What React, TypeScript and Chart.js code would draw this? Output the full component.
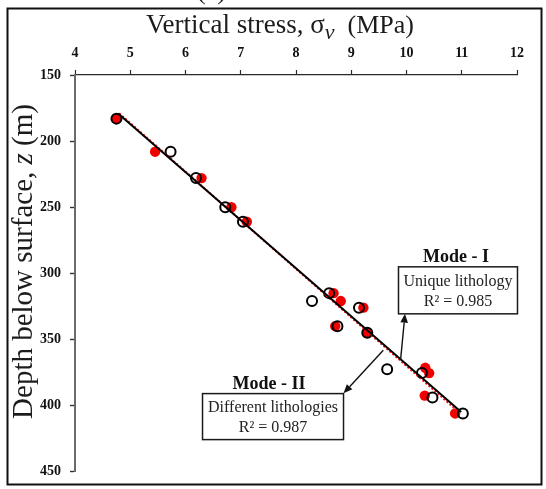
import React, { useEffect, useRef } from "react";
import { Chart, registerables } from "chart.js";

Chart.register(...registerables);

// Mode I: unique lithology (filled red markers)
const uniqueStress = [4.75, 5.45, 6.29, 6.83, 7.11, 8.68, 8.81, 9.22, 8.71, 9.29, 10.34, 10.41, 10.33, 10.88];
const uniqueDepth = [183, 208, 228, 250, 261, 315, 321, 326, 340, 345, 371.5, 375.5, 392.5, 406];

// Mode II: different lithologies (open black markers)
const mixedStress = [4.75, 5.73, 6.19, 6.72, 7.04, 8.29, 8.6, 9.14, 8.75, 9.29, 9.65, 10.28, 10.47, 11.02];
const mixedDepth = [183, 208, 228, 250, 261, 321, 315, 326, 340, 345, 372.5, 375.5, 394, 406];

// Linear trend lines, given by their two end points
const fitUniqueStress = [4.8, 10.92];
const fitUniqueDepth = [179, 404];
const fitMixedStress = [4.78, 10.99];
const fitMixedDepth = [179.2, 405];

// Axis ticks
const stressTicks = [4, 5, 6, 7, 8, 9, 10, 11, 12];
const depthTicks = [150, 200, 250, 300, 350, 400, 450];

// Annotation texts
const modeOneTitle = "Mode - I";
const modeOneLines = ["Unique lithology", "R\u00B2 = 0.985"];
const modeTwoTitle = "Mode - II";
const modeTwoLines = ["Different lithologies", "R\u00B2 = 0.987"];

const SERIF = '"Liberation Serif", "Times New Roman", serif';

const toPoints = (xs: number[], ys: number[]) => xs.map((x, i) => ({ x, y: ys[i] }));

function arrow(ctx: CanvasRenderingContext2D, x0: number, y0: number, x1: number, y1: number) {
  const ang = Math.atan2(y1 - y0, x1 - x0);
  const head = 9;
  const half = 3.8;
  const bx = x1 - head * Math.cos(ang);
  const by = y1 - head * Math.sin(ang);
  ctx.beginPath();
  ctx.moveTo(x0, y0);
  ctx.lineTo(bx, by);
  ctx.stroke();
  ctx.beginPath();
  ctx.moveTo(x1, y1);
  ctx.lineTo(bx + half * Math.sin(ang), by - half * Math.cos(ang));
  ctx.lineTo(bx - half * Math.sin(ang), by + half * Math.cos(ang));
  ctx.closePath();
  ctx.fill();
}

function textBox(
  ctx: CanvasRenderingContext2D,
  cx: number,
  top: number,
  w: number,
  h: number,
  title: string,
  lines: string[],
  titleShift: number
) {
  ctx.save();
  ctx.fillStyle = "#ffffff";
  ctx.fillRect(cx - w / 2, top, w, h);
  ctx.strokeStyle = "#1a1a1a";
  ctx.lineWidth = 1.5;
  ctx.strokeRect(cx - w / 2, top, w, h);
  ctx.fillStyle = "#111111";
  ctx.textAlign = "center";
  ctx.textBaseline = "middle";
  ctx.font = `bold 18px ${SERIF}`;
  ctx.fillText(title, cx + titleShift, top - 9.5);
  ctx.font = `16px ${SERIF}`;
  ctx.fillStyle = "#222222";
  ctx.fillText(lines[0], cx, top + 14.5);
  ctx.fillText(lines[1], cx, top + 34.5);
  ctx.restore();
}

type Part = { t: string; f: string; dy: number };

function drawParts(ctx: CanvasRenderingContext2D, parts: Part[], cx: number, baseline: number) {
  let total = 0;
  for (const p of parts) {
    ctx.font = p.f;
    total += ctx.measureText(p.t).width;
  }
  let x = cx - total / 2;
  for (const p of parts) {
    ctx.font = p.f;
    ctx.fillText(p.t, x, baseline + p.dy);
    x += ctx.measureText(p.t).width;
  }
}

const decorPlugin = {
  id: "decor",
  afterDraw(chart: any) {
    const { ctx } = chart;
    const xs = chart.scales.x;
    const ys = chart.scales.y;
    const px = (v: number) => xs.getPixelForValue(v);
    const py = (v: number) => ys.getPixelForValue(v);

    ctx.save();

    // outer frame
    ctx.strokeStyle = "#111111";
    ctx.lineWidth = 2;
    ctx.strokeRect(7.5, 8.5, 534, 476);

    // panel tag above the frame
    ctx.fillStyle = "#222222";
    ctx.textAlign = "left";
    ctx.textBaseline = "alphabetic";
    ctx.font = `26px ${SERIF}`;
    ctx.fillText("(a)", 197, -1.5);

    // axis titles
    ctx.fillStyle = "#1c1c1c";
    drawParts(
      ctx,
      [
        { t: "Vertical stress, ", f: `27px ${SERIF}`, dy: 0 },
        { t: "\u03C3", f: `27px ${SERIF}`, dy: 0 },
        { t: "v", f: `italic 22px ${SERIF}`, dy: 6 },
        { t: "  (MPa)", f: `26px ${SERIF}`, dy: 0 },
      ],
      280,
      33
    );

    ctx.save();
    ctx.translate(31.5, 261.5);
    ctx.rotate(-Math.PI / 2);
    drawParts(
      ctx,
      [
        { t: "Depth below surface, ", f: `29px ${SERIF}`, dy: 0 },
        { t: "z", f: `italic 29px ${SERIF}`, dy: 0 },
        { t: " (m)", f: `29px ${SERIF}`, dy: 0 },
      ],
      0,
      0
    );
    ctx.restore();

    // arrows from the trend lines to the labels
    ctx.strokeStyle = "#111111";
    ctx.fillStyle = "#111111";
    ctx.lineWidth = 1.4;
    arrow(ctx, px(9.895), py(364.5), px(9.973), py(330.6));
    arrow(ctx, px(9.58), py(358.2), px(8.86), py(390.8));

    // label boxes
    textBox(ctx, px(10.932), py(295.1), 119, 47, modeOneTitle, modeOneLines, -2);
    textBox(ctx, px(7.584), py(391), 141, 46, modeTwoTitle, modeTwoLines, -4);

    ctx.restore();
  },
};

export default function App() {
  const ref = useRef<HTMLCanvasElement | null>(null);

  useEffect(() => {
    const canvas = ref.current;
    if (!canvas) return;

    const chart = new Chart(canvas, {
      type: "scatter",
      data: {
        datasets: [
          {
            label: "Mode II fit",
            data: toPoints(fitMixedStress, fitMixedDepth),
            showLine: true,
            borderColor: "#000000",
            borderWidth: 2,
            pointRadius: 0,
            order: 0,
          },
          {
            label: "Mode I fit",
            data: toPoints(fitUniqueStress, fitUniqueDepth),
            showLine: true,
            borderColor: "#ff1010",
            borderWidth: 2,
            borderDash: [2, 2],
            pointRadius: 0,
            order: 1,
          },
          {
            label: "Different lithologies",
            data: toPoints(mixedStress, mixedDepth),
            pointRadius: 5,
            pointBorderWidth: 2,
            pointBorderColor: "#000000",
            pointBackgroundColor: "rgba(0,0,0,0)",
            order: 2,
          },
          {
            label: "Unique lithology",
            data: toPoints(uniqueStress, uniqueDepth),
            pointRadius: 5.2,
            pointBorderWidth: 0,
            pointBackgroundColor: "#f20000",
            pointBorderColor: "#f20000",
            order: 3,
          },
        ],
      },
      options: {
        animation: false,
        responsive: false,
        devicePixelRatio: 1,
        events: [],
        layout: { padding: { left: 0, right: 29, top: 0, bottom: 13 } },
        plugins: {
          legend: { display: false },
          tooltip: { enabled: false },
          title: { display: false },
        },
        scales: {
          x: {
            type: "linear",
            position: "top",
            min: 4,
            max: 12,
            afterFit: (s: any) => {
              s.height = 75;
            },
            afterBuildTicks: (s: any) => {
              s.ticks = stressTicks.map((v) => ({ value: v }));
            },
            border: { display: true, color: "#2a2a2a", width: 1.2 },
            grid: {
              drawOnChartArea: false,
              drawTicks: true,
              tickLength: 5,
              tickColor: "#2a2a2a",
              tickWidth: 1.2,
            },
            ticks: {
              padding: 8,
              color: "#111111",
              font: { family: SERIF, size: 14, weight: "bold" },
            },
          },
          y: {
            type: "linear",
            reverse: true,
            min: 150,
            max: 450,
            afterFit: (s: any) => {
              s.width = 75;
            },
            afterBuildTicks: (s: any) => {
              s.ticks = depthTicks.map((v) => ({ value: v }));
            },
            border: { display: true, color: "#6a6a6a", width: 2 },
            grid: {
              drawOnChartArea: false,
              drawTicks: true,
              tickLength: 5,
              tickColor: "#333333",
              tickWidth: 1.4,
            },
            ticks: {
              padding: 9,
              color: "#111111",
              font: { family: SERIF, size: 14, weight: "bold" },
            },
          },
        },
      } as any,
      plugins: [decorPlugin],
    });

    return () => chart.destroy();
  }, []);

  return (
    <canvas
      ref={ref}
      width={546}
      height={489}
      style={{ position: "fixed", left: 0, top: 0, width: 546, height: 489, display: "block", background: "#ffffff" }}
    />
  );
}
